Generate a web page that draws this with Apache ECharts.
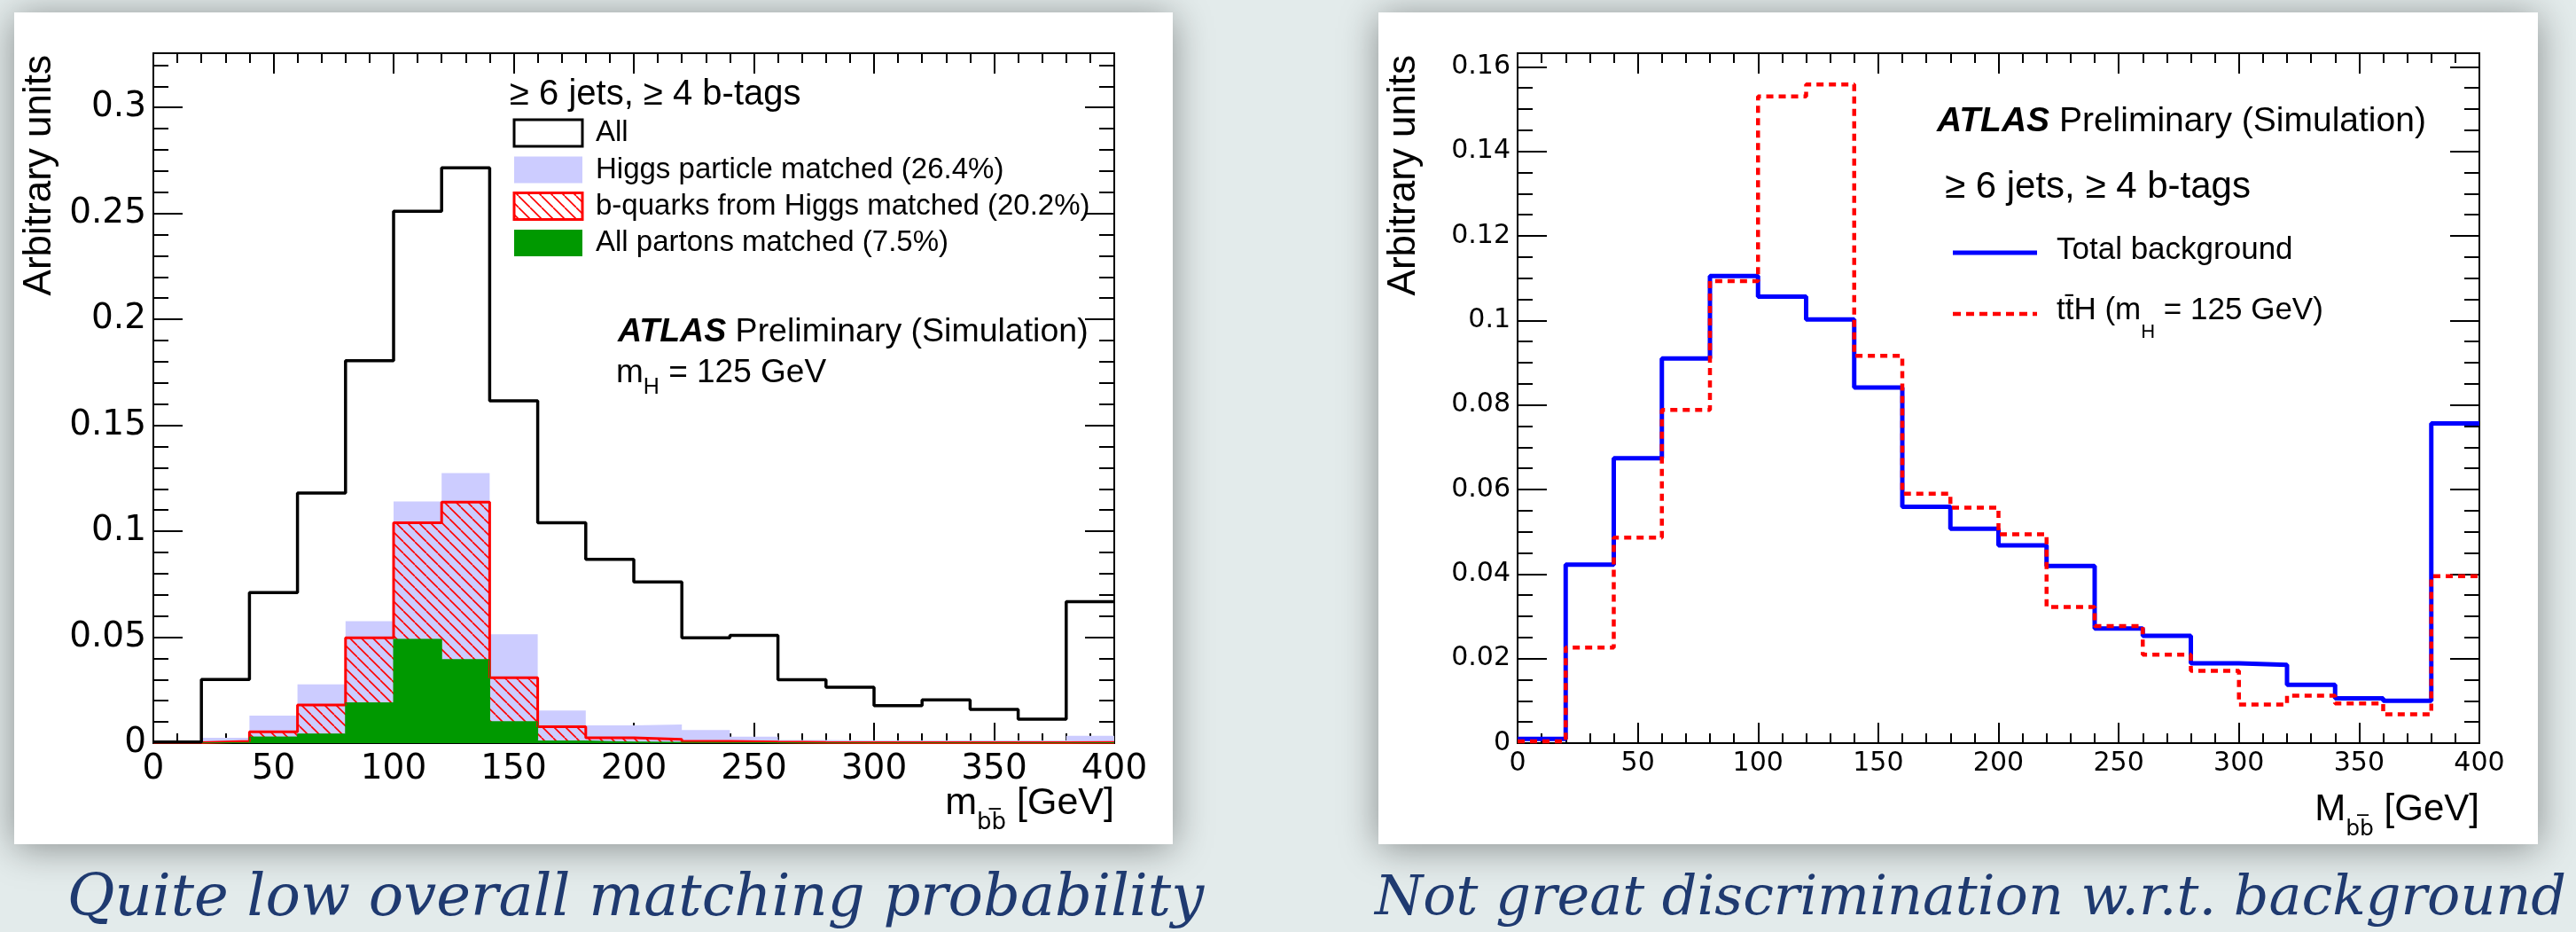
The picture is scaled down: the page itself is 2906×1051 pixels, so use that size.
<!DOCTYPE html>
<html>
<head>
<meta charset="utf-8">
<script src="https://cdn.jsdelivr.net/npm/echarts@6/dist/echarts.min.js"></script>
<style>
  html, body { margin: 0; padding: 0; background: #e3ebeb; }
  #main { width: 2906px; height: 1051px; }
</style>
</head>
<body>
<div id="main"></div>
<script>
// bin edges in GeV (20 GeV bins, last edge closes the final bin)
const binEdges = [0, 20, 40, 60, 80, 100, 120, 140, 160, 180, 200, 220, 240, 260, 280, 300, 320, 340, 360, 380, 400]

// left panel: m_bb of the selected pair
const allEvents = [0.0005, 0.030, 0.071, 0.118, 0.1805, 0.251, 0.2715, 0.1615, 0.104, 0.0867, 0.0761, 0.0497, 0.0509, 0.0299, 0.0264, 0.0177, 0.0204, 0.0159, 0.0113, 0.0668]
const higgsMatched = [0.0003, 0.0025, 0.013, 0.0277, 0.0575, 0.114, 0.1274, 0.0514, 0.0154, 0.0084, 0.0088, 0.0062, 0.003, 0.0015, 0.0013, 0.0013, 0.0013, 0.0013, 0.0013, 0.0035]
const bquarksMatched = [0.0002, 0.0008, 0.0053, 0.018, 0.0497, 0.104, 0.1137, 0.0309, 0.0077, 0.0025, 0.0018, 0.0008, 0.0005, 0.0003, 0.0002, 0.0002, 0.0002, 0.0002, 0.0002, 0.0003]
const partonsMatched = [0.0001, 0.0003, 0.0029, 0.0043, 0.019, 0.049, 0.0394, 0.0101, 0.001, 0.0005, 0.0004, 0.0003, 0.0002, 0.0001, 0.0001, 0.0001, 0.0001, 0.0001, 0.0001, 0.0002]

// right panel: background vs ttH
const totalBackground = [0.001, 0.0422, 0.0674, 0.091, 0.1105, 0.1056, 0.1002, 0.0841, 0.0559, 0.0507, 0.0468, 0.0419, 0.0271, 0.0254, 0.0189, 0.0185, 0.0138, 0.0106, 0.0100, 0.0756]
const ttH = [0.0004, 0.0226, 0.0486, 0.0788, 0.1093, 0.153, 0.1558, 0.0916, 0.059, 0.0557, 0.0494, 0.0322, 0.0277, 0.0209, 0.0171, 0.0091, 0.0112, 0.0094, 0.0068, 0.0395]

const leftLegend = ['All', 'Higgs particle matched (26.4%)', 'b-quarks from Higgs matched (20.2%)', 'All partons matched (7.5%)']
const rightLegend = ['Total background', '{m|tt\u0304H (m}{s|H}{m| = 125 GeV)}']
const captions = ['Quite low overall matching probability', 'Not great discrimination w.r.t. background']

const SANS = '"Liberation Sans", Arial, Helvetica, sans-serif'
const NUM = '"DejaVu Sans", sans-serif'
const HAND = '"DejaVu Serif", serif'
const BLACK = '#000'

// red "\\\\" hatching used by the b-quark histogram
const hatch = (() => {
  const s = 13
  const c = document.createElement('canvas')
  c.width = s
  c.height = s
  const ctx = c.getContext('2d')
  ctx.strokeStyle = '#ff0000'
  ctx.lineWidth = 1.6
  ;[-s, 0, s].forEach(off => {
    ctx.beginPath()
    ctx.moveTo(off, 0)
    ctx.lineTo(off + s, s)
    ctx.stroke()
  })
  return c
})()
const hatchFill = { image: hatch, repeat: 'repeat' }

// one point per left bin edge, plus the closing edge so the last bin is drawn
const stepData = values => binEdges.map((x, i) => [x, values[Math.min(i, values.length - 1)]])

const xAxes = (gridIndex, fontSize, margin) => {
  const base = {
    gridIndex, type: 'value', min: 0, max: 400, interval: 50,
    axisLine: { show: true, onZero: false, lineStyle: { color: BLACK, width: 2 } },
    axisTick: { show: true, inside: true, length: 23, lineStyle: { color: BLACK, width: 2 } },
    minorTick: { show: true, splitNumber: 5, length: 11, lineStyle: { color: BLACK, width: 2 } },
    splitLine: { show: false },
  }
  return [
    { ...base, position: 'bottom', axisLabel: { fontFamily: NUM, fontSize, color: BLACK, margin } },
    { ...base, position: 'top', axisLabel: { show: false } },
  ]
}

const yAxes = (gridIndex, max, major, minor, fontSize) => {
  const mk = (position, interval, length, label) => ({
    gridIndex, type: 'value', position, min: 0, max, interval,
    axisLine: { show: true, onZero: false, lineStyle: { color: BLACK, width: 2 } },
    axisTick: { show: true, inside: true, length, lineStyle: { color: BLACK, width: 2 } },
    axisLabel: label
      ? { fontFamily: NUM, fontSize, color: BLACK, margin: 8, showMaxLabel: false }
      : { show: false },
    splitLine: { show: false },
  })
  return [
    mk('left', major, 33, true), mk('left', minor, 17, false),
    mk('right', major, 33, false), mk('right', minor, 17, false),
  ]
}

const hist = (name, xAxisIndex, yAxisIndex, values, lineStyle, areaStyle) => ({
  name, type: 'line', step: 'end', symbol: 'none', xAxisIndex, yAxisIndex,
  data: stepData(values), lineStyle, areaStyle, animation: false, silent: true,
})

const txt = (x, y, text, size, extra) => ({
  type: 'text', z: 50, x, y,
  style: {
    text, fontSize: size, fontFamily: SANS, fill: BLACK,
    align: 'left', textAlign: 'left', verticalAlign: 'middle', textVerticalAlign: 'middle',
    ...extra,
  },
})

const subRich = (main, sub, pad, subFont) => ({
  m: { fontSize: main, fontFamily: SANS, verticalAlign: 'bottom', padding: [0, 0, pad, 0] },
  s: { fontSize: sub, fontFamily: subFont || SANS, verticalAlign: 'bottom' },
})

const card = (x, w) => ({
  type: 'rect', z: -5, shape: { x, y: 14, width: w, height: 938 },
  style: { fill: '#fff', shadowBlur: 40, shadowColor: 'rgba(0,0,0,0.4)', shadowOffsetY: 4 },
})

const legendRows = [150, 191.5, 232.5, 274]
const leftBoxes = [
  { fill: '#fff', stroke: BLACK, lineWidth: 3 },
  { fill: '#ccccff' },
  { fill: hatchFill, stroke: '#ff0000', lineWidth: 3 },
  { fill: '#009900' },
]

const graphic = [
  card(16, 1307),
  card(1555, 1308),

  // left panel texts
  txt(575, 107, '\u2265 6 jets, \u2265 4 b-tags', 40),
  ...leftBoxes.map((st, i) => ({
    type: 'rect', z: 50, shape: { x: 580, y: legendRows[i] - 15, width: 77, height: 30 }, style: st,
  })),
  ...leftLegend.map((t, i) => txt(672, legendRows[i], t, 33)),
  txt(697, 375, '{a|ATLAS} Preliminary (Simulation)', 37.5, {
    rich: { a: { fontSize: 37.5, fontFamily: SANS, fontWeight: 'bold', fontStyle: 'italic' } },
  }),
  txt(695, 426, '{m|m}{s|H}{m| = 125 GeV}', 37, { rich: subRich(37, 25, 10) }),
  { ...txt(45, 62, 'Arbitrary units', 44, { align: 'right', textAlign: 'right' }), rotation: Math.PI / 2 },
  txt(1257, 913, '{m|m}{s|bb\u0305}{m| [GeV]}', 43, { align: 'right', textAlign: 'right', rich: subRich(43, 26, 14, NUM) }),

  // right panel texts
  txt(2185, 137, '{a|ATLAS} Preliminary (Simulation)', 39, {
    rich: { a: { fontSize: 39, fontFamily: SANS, fontWeight: 'bold', fontStyle: 'italic' } },
  }),
  txt(2194, 211, '\u2265 6 jets, \u2265 4 b-tags', 42),
  { type: 'line', z: 50, shape: { x1: 2203, y1: 285, x2: 2298, y2: 285 }, style: { stroke: '#0000ff', lineWidth: 5 } },
  { type: 'line', z: 50, shape: { x1: 2203, y1: 354, x2: 2298, y2: 354 }, style: { stroke: '#ff0000', lineWidth: 4.5, lineDash: [9, 6] } },
  txt(2320, 282, rightLegend[0], 35),
  txt(2320, 359, rightLegend[1], 35, { rich: subRich(35, 22, 18) }),
  { ...txt(1584, 62, 'Arbitrary units', 44, { align: 'right', textAlign: 'right' }), rotation: Math.PI / 2 },
  txt(2797, 920, '{m|M}{s|bb\u0305}{m| [GeV]}', 42, { align: 'right', textAlign: 'right', rich: subRich(42, 25, 14, NUM) }),

  // handwritten captions
  txt(717, 1015, captions[0], 65.5, { align: 'center', textAlign: 'center', fontFamily: HAND, fontStyle: 'italic', fill: '#1f3a70' }),
  txt(2223, 1015, captions[1], 62, { align: 'center', textAlign: 'center', fontFamily: HAND, fontStyle: 'italic', fill: '#1f3a70' }),
]

const chart = echarts.init(document.getElementById('main'))

chart.setOption({
  backgroundColor: '#e3ebeb',
  animation: false,
  grid: [
    { left: 173, top: 60, width: 1084, height: 778 },
    { left: 1712, top: 60, width: 1085, height: 778 },
  ],
  xAxis: [...xAxes(0, 39, 10), ...xAxes(1, 30, 8)],
  yAxis: [...yAxes(0, 0.3256, 0.05, 0.01, 39), ...yAxes(1, 0.1632, 0.02, 0.005, 30)],
  series: [
    hist('Higgs particle matched', 0, 0, higgsMatched, { width: 0, opacity: 0 }, { color: '#ccccff', opacity: 1 }),
    hist('b-quarks from Higgs matched', 0, 0, bquarksMatched, { color: '#ff0000', width: 3 }, { color: hatchFill, opacity: 1 }),
    hist('All partons matched', 0, 0, partonsMatched, { color: '#009900', width: 1 }, { color: '#009900', opacity: 1 }),
    hist('All', 0, 0, allEvents, { color: BLACK, width: 3.5 }),
    hist('Total background', 2, 4, totalBackground, { color: '#0000ff', width: 5 }),
    hist('ttH', 2, 4, ttH, { color: '#ff0000', width: 4.5, type: [8, 6] }),
  ],
  graphic,
})
</script>
</body>
</html>
